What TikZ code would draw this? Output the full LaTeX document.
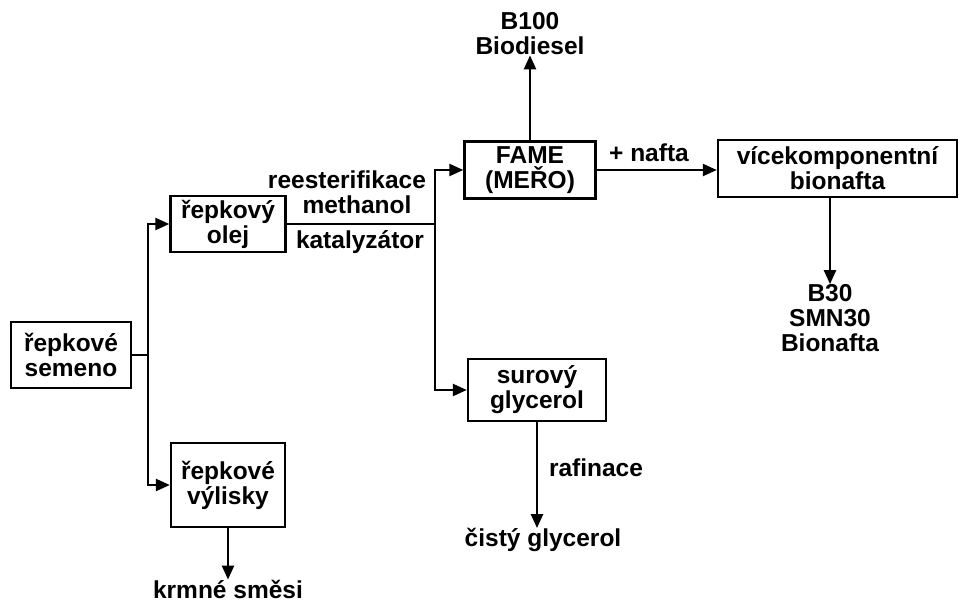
\documentclass[tikz,border=0pt]{standalone}
\usepackage{fontspec}
\setmainfont{Liberation Sans}
\usetikzlibrary{arrows.meta}
\begin{document}
\begin{tikzpicture}[x=1pt,y=-1pt,
  every node/.style={font=\bfseries\fontsize{24.5}{25}\selectfont, align=center, inner sep=0pt},
  box/.style={draw, line width=2.4pt, rectangle},
  lbl/.style={},
  arr/.style={line width=2.4pt, -{Triangle[length=14pt,width=12pt]}},
  ln/.style={line width=2.4pt}]
\useasboundingbox (0,0) rectangle (964,604);
\fill[white] (0,0) rectangle (964,604);
% boxes
\node[box, minimum width=120pt, minimum height=66pt] (semeno) at (71,355) {řepkové\\semeno};
\node[box, minimum width=115pt, minimum height=56pt] (olej) at (228,224) {řepkový\\olej};
\node[box, minimum width=114pt, minimum height=84pt] (vylisky) at (228,485) {řepkové\\výlisky};
\node[box, minimum width=131pt, minimum height=57pt] (fame) at (530,170) {FAME\\(MEŘO)};
\node[box, minimum width=239pt, minimum height=57pt] (vice) at (837.5,168.5) {vícekomponentní\\bionafta};
\node[box, minimum width=138pt, minimum height=62pt] (glyc) at (537,390) {surový\\glycerol};
% output labels
\node[lbl] (b100) at (530,34) {B100\\Biodiesel};
\node[lbl] (b30) at (830,318) {B30\\SMN30\\Bionafta};
\node[lbl] (cisty) at (543,540) {čistý glycerol};
\node[lbl] (krmne) at (228,589) {krmné směsi};
% process labels
\node[lbl] (rees) at (347,180) {reesterifikace};
\node[lbl] (meth) at (357,205) {methanol};
\node[lbl] (kat) at (360,242) {katalyzátor};
\node[lbl] (nafta) at (649,153) {+ nafta};
\node[lbl] (raf) at (596,468) {rafinace};
% junctions
\coordinate (j1) at (148,355);
\coordinate (j2) at (435,224);
% connectors
\draw[ln] (semeno.east) -- (j1);
\draw[arr] (j1) |- (olej.west);
\draw[arr] (j1) |- (vylisky.west);
\draw[ln] (olej.east) -- (j2);
\draw[arr] (j2) |- (fame.west);
\draw[arr] (j2) |- (glyc.west);
\draw[arr] (fame.north) -- (fame.north |- b100.south);
\draw[arr] (fame.east) -- (fame.east -| vice.west);
\draw[arr] (vice.south -| b30) -- (b30.north);
\draw[arr] (glyc.south) -- (glyc.south |- cisty.north);
\draw[arr] (vylisky.south) -- (krmne.north);
\end{tikzpicture}
\end{document}
